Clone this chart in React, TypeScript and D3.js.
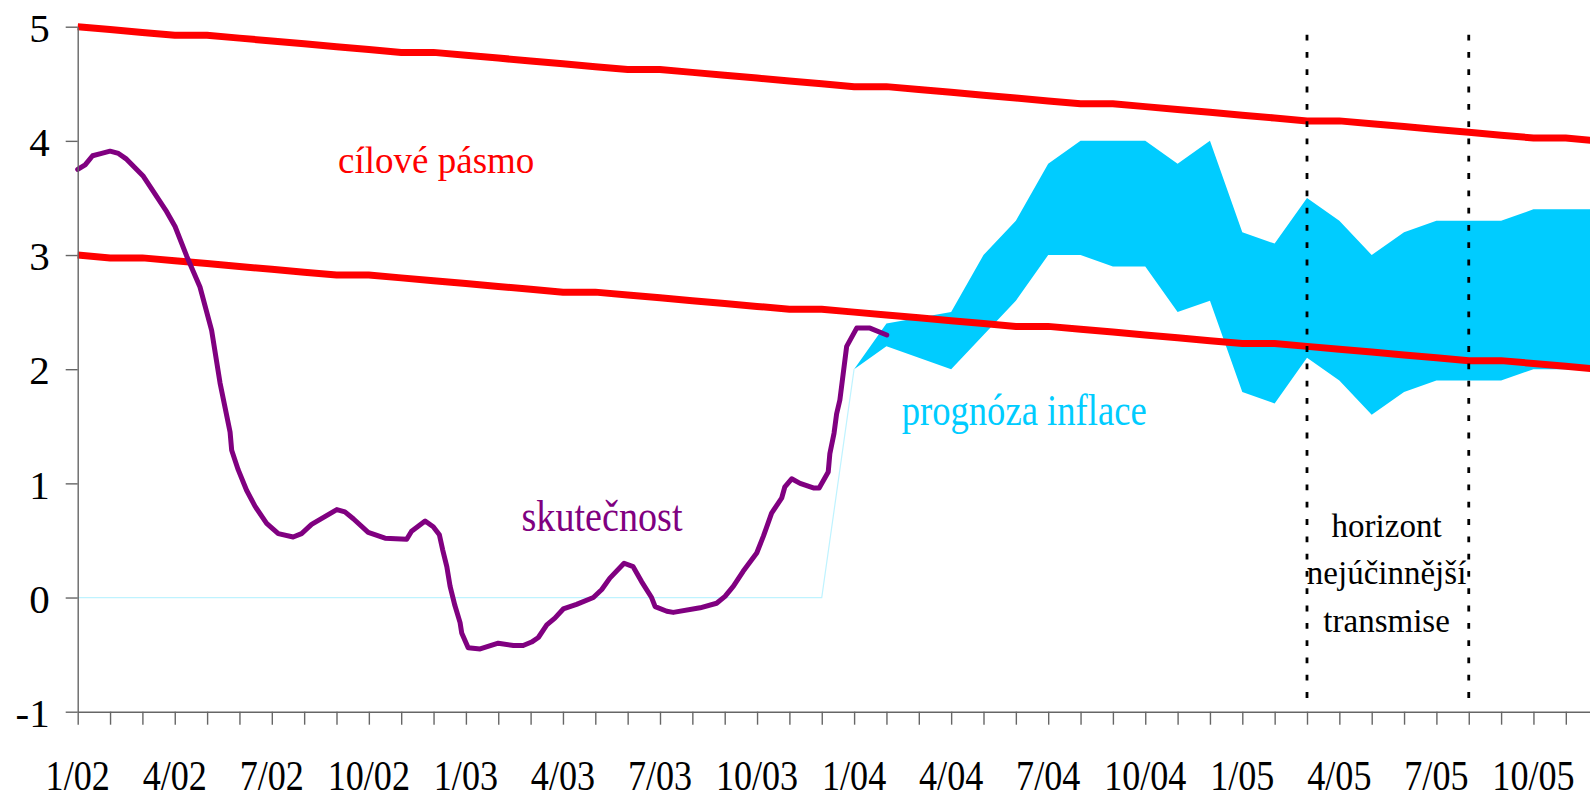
import { useEffect, useRef } from 'react';
import * as d3 from 'd3';

// month categories on the x axis (1/02 .. 12/05)
const months = [
  '1/02', '2/02', '3/02', '4/02', '5/02', '6/02', '7/02', '8/02', '9/02', '10/02', '11/02', '12/02',
  '1/03', '2/03', '3/03', '4/03', '5/03', '6/03', '7/03', '8/03', '9/03', '10/03', '11/03', '12/03',
  '1/04', '2/04', '3/04', '4/04', '5/04', '6/04', '7/04', '8/04', '9/04', '10/04', '11/04', '12/04',
  '1/05', '2/05', '3/05', '4/05', '5/05', '6/05', '7/05', '8/05', '9/05', '10/05', '11/05', '12/05',
];

// target band (cílové pásmo), upper and lower edge
const targetUpper = [
  5.0, 4.975, 4.95, 4.925, 4.925, 4.9, 4.875, 4.85, 4.825, 4.8, 4.775, 4.775,
  4.75, 4.725, 4.7, 4.675, 4.65, 4.625, 4.625, 4.6, 4.575, 4.55, 4.525, 4.5,
  4.475, 4.475, 4.45, 4.425, 4.4, 4.375, 4.35, 4.325, 4.325, 4.3, 4.275, 4.25,
  4.225, 4.2, 4.175, 4.175, 4.15, 4.125, 4.1, 4.075, 4.05, 4.025, 4.025, 4.0,
];
const targetLower = [
  3.0, 2.975, 2.975, 2.95, 2.925, 2.9, 2.875, 2.85, 2.825, 2.825, 2.8, 2.775,
  2.75, 2.725, 2.7, 2.675, 2.675, 2.65, 2.625, 2.6, 2.575, 2.55, 2.525, 2.525,
  2.5, 2.475, 2.45, 2.425, 2.4, 2.375, 2.375, 2.35, 2.325, 2.3, 2.275, 2.25,
  2.225, 2.225, 2.2, 2.175, 2.15, 2.125, 2.1, 2.075, 2.075, 2.05, 2.025, 2.0,
];

// invisible base of the stacked forecast area (shows as a thin line)
const forecastBase = [0, 0, 0, 0, 0, 0, 0, 0, 0, 0, 0, 0, 0, 0, 0, 0, 0, 0, 0, 0, 0, 0, 0, 0, 2.0];

// forecast fan (prognóza inflace), starting at 1/04
const forecastStart = 24;
const forecastLow = [
  2.0, 2.2, 2.1, 2.0, 2.3, 2.6, 3.0, 3.0, 2.9, 2.9, 2.5, 2.6,
  1.8, 1.7, 2.1, 1.9, 1.6, 1.8, 1.9, 1.9, 1.9, 2.0, 2.0, 2.0,
];
const forecastHigh = [
  2.0, 2.4, 2.45, 2.5, 3.0, 3.3, 3.8, 4.0, 4.0, 4.0, 3.8, 4.0,
  3.2, 3.1, 3.5, 3.3, 3.0, 3.2, 3.3, 3.3, 3.3, 3.4, 3.4, 3.4,
];

// actual inflation (skutečnost): month position and value
const actualT = [
  0, 0.23, 0.46, 0.74, 1.0, 1.26, 1.51, 2.03, 2.75, 3.01, 3.37, 3.78, 4.14, 4.4, 4.71, 4.76,
  4.96, 5.22, 5.48, 5.84, 6.2, 6.66, 6.92, 7.23, 8.01, 8.26, 8.52, 8.98, 9.5, 10.17, 10.32,
  10.74, 10.99, 11.18, 11.28, 11.41, 11.51, 11.66, 11.82, 11.87, 12.07, 12.44, 13.0, 13.47,
  13.77, 14.03, 14.24, 14.5, 14.75, 15.01, 15.42, 15.94, 16.2, 16.45, 16.89, 17.17, 17.43,
  17.74, 17.85, 18.21, 18.41, 19.24, 19.75, 20.01, 20.27, 20.57, 20.99, 21.2, 21.45, 21.76,
  21.86, 22.07, 22.33, 22.74, 22.92, 23.2, 23.25, 23.38, 23.46, 23.56, 23.77, 24.08, 24.49, 25.01,
];
const actualV = [
  3.75, 3.79, 3.87, 3.89, 3.91, 3.89, 3.84, 3.69, 3.38, 3.25, 2.99, 2.72, 2.34, 1.88, 1.45, 1.29,
  1.12, 0.94, 0.8, 0.65, 0.56, 0.53, 0.56, 0.64, 0.77, 0.75, 0.69, 0.57, 0.52, 0.51, 0.58,
  0.67, 0.62, 0.55, 0.42, 0.27, 0.1, -0.07, -0.22, -0.31, -0.44, -0.45, -0.4, -0.42,
  -0.42, -0.39, -0.35, -0.24, -0.18, -0.1, -0.06, 0.0, 0.07, 0.17, 0.3, 0.27, 0.14,
  0.0, -0.08, -0.12, -0.13, -0.09, -0.05, 0.01, 0.1, 0.23, 0.39, 0.54, 0.74, 0.87,
  0.97, 1.04, 1.0, 0.96, 0.96, 1.1, 1.26, 1.44, 1.61, 1.73, 2.2, 2.36, 2.36, 2.3,
];

// horizon of the most effective transmission
const horizonMonths = ['3/05', '8/05'];
const horizonLines = ['horizont', 'nejúčinnější', 'transmise'];

const yTicks = [-1, 0, 1, 2, 3, 4, 5];

const serif = '"Liberation Serif", "Times New Roman", serif';

export default function App() {
  const svgRef = useRef(null);

  useEffect(() => {
    const w = 1590;
    const h = 799;
    const svg = d3.select(svgRef.current).attr('width', w).attr('height', h);
    svg.selectAll('*').remove();

    // scales
    const x = d3.scaleLinear().domain([0, 47]).range([77.7, 77.7 + 47 * 32.35]);
    const y = d3.scaleLinear().domain([-1, 5]).range([711.7, 26.7]);

    // base line of the stacked area
    svg
      .append('path')
      .datum(forecastBase)
      .attr('d', d3.line((d, i) => x(i), (d) => y(d)))
      .attr('fill', 'none')
      .attr('stroke', '#bff3ff')
      .attr('stroke-width', 1.2);

    // forecast fan
    const fan = forecastLow.map((lo, i) => ({ t: forecastStart + i, lo, hi: forecastHigh[i] }));
    svg
      .append('path')
      .datum(fan)
      .attr(
        'd',
        d3
          .area()
          .x((d) => x(d.t))
          .y0((d) => y(d.lo))
          .y1((d) => y(d.hi))
      )
      .attr('fill', '#00ccff');

    // target band edges
    const redLine = d3.line((d, i) => x(i), (d) => y(d));
    [targetUpper, targetLower].forEach((s) => {
      svg
        .append('path')
        .datum(s)
        .attr('d', redLine)
        .attr('fill', 'none')
        .attr('stroke', '#ff0000')
        .attr('stroke-width', 7);
    });

    // actual inflation
    svg
      .append('path')
      .datum(actualT.map((t, i) => [t, actualV[i]]))
      .attr('d', d3.line((d) => x(d[0]), (d) => y(d[1])))
      .attr('fill', 'none')
      .attr('stroke', '#800080')
      .attr('stroke-width', 5)
      .attr('stroke-linejoin', 'round')
      .attr('stroke-linecap', 'round');

    // horizon dotted lines
    horizonMonths.forEach((m) => {
      const xi = x(months.indexOf(m));
      svg
        .append('line')
        .attr('x1', xi)
        .attr('x2', xi)
        .attr('y1', y(4.93))
        .attr('y2', y(-0.9))
        .attr('stroke', '#000')
        .attr('stroke-width', 2.8)
        .attr('stroke-dasharray', '5.8 11.5');
    });

    // y axis
    const yAxis = d3
      .axisLeft(y)
      .tickValues(yTicks)
      .tickSize(12)
      .tickSizeOuter(0)
      .tickPadding(16)
      .tickFormat((d) => String(d));
    const gy = svg.append('g').attr('transform', `translate(${x(0)},0)`).call(yAxis);
    gy.attr('font-family', serif).attr('font-size', 41);
    gy.selectAll('path, line').attr('stroke', '#666').attr('stroke-width', 1.4);
    gy.selectAll('text').attr('fill', '#000').attr('dy', '0.36em');

    // x axis
    const xAxis = d3
      .axisBottom(x)
      .tickValues(months.map((m, i) => i))
      .tickSize(13)
      .tickSizeOuter(0)
      .tickFormat(() => '');
    const gx = svg.append('g').attr('transform', `translate(0,${y(-1)})`).call(xAxis);
    gx.selectAll('path, line').attr('stroke', '#666').attr('stroke-width', 1.4);

    months.forEach((m, i) => {
      if (i % 3 !== 0) return;
      svg
        .append('text')
        .attr('transform', `translate(${x(i)},790) scale(0.86,1)`)
        .attr('text-anchor', 'middle')
        .attr('font-family', serif)
        .attr('font-size', 42)
        .attr('fill', '#000')
        .text(m);
    });

    // annotations
    svg
      .append('text')
      .attr('x', x(8.05))
      .attr('y', y(3.72))
      .attr('font-family', serif)
      .attr('font-size', 37)
      .attr('fill', '#ff0000')
      .text('cílové pásmo');

    svg
      .append('text')
      .attr('x', x(13.72))
      .attr('y', y(0.587))
      .attr('font-family', serif)
      .attr('font-size', 44)
      .attr('textLength', 161)
      .attr('lengthAdjust', 'spacingAndGlyphs')
      .attr('fill', '#800080')
      .text('skutečnost');

    svg
      .append('text')
      .attr('x', x(25.47))
      .attr('y', y(1.51))
      .attr('font-family', serif)
      .attr('font-size', 44)
      .attr('textLength', 245)
      .attr('lengthAdjust', 'spacingAndGlyphs')
      .attr('fill', '#00ccff')
      .text('prognóza inflace');

    horizonLines.forEach((line, i) => {
      svg
        .append('text')
        .attr('x', x(40.46))
        .attr('y', y(0.534) + i * 47.5)
        .attr('text-anchor', 'middle')
        .attr('font-family', serif)
        .attr('font-size', 33)
        .attr('fill', '#000')
        .text(line);
    });
  }, []);

  return (
    <svg
      ref={svgRef}
      style={{ position: 'absolute', left: 0, top: 0, background: '#fff', display: 'block' }}
    ></svg>
  );
}
